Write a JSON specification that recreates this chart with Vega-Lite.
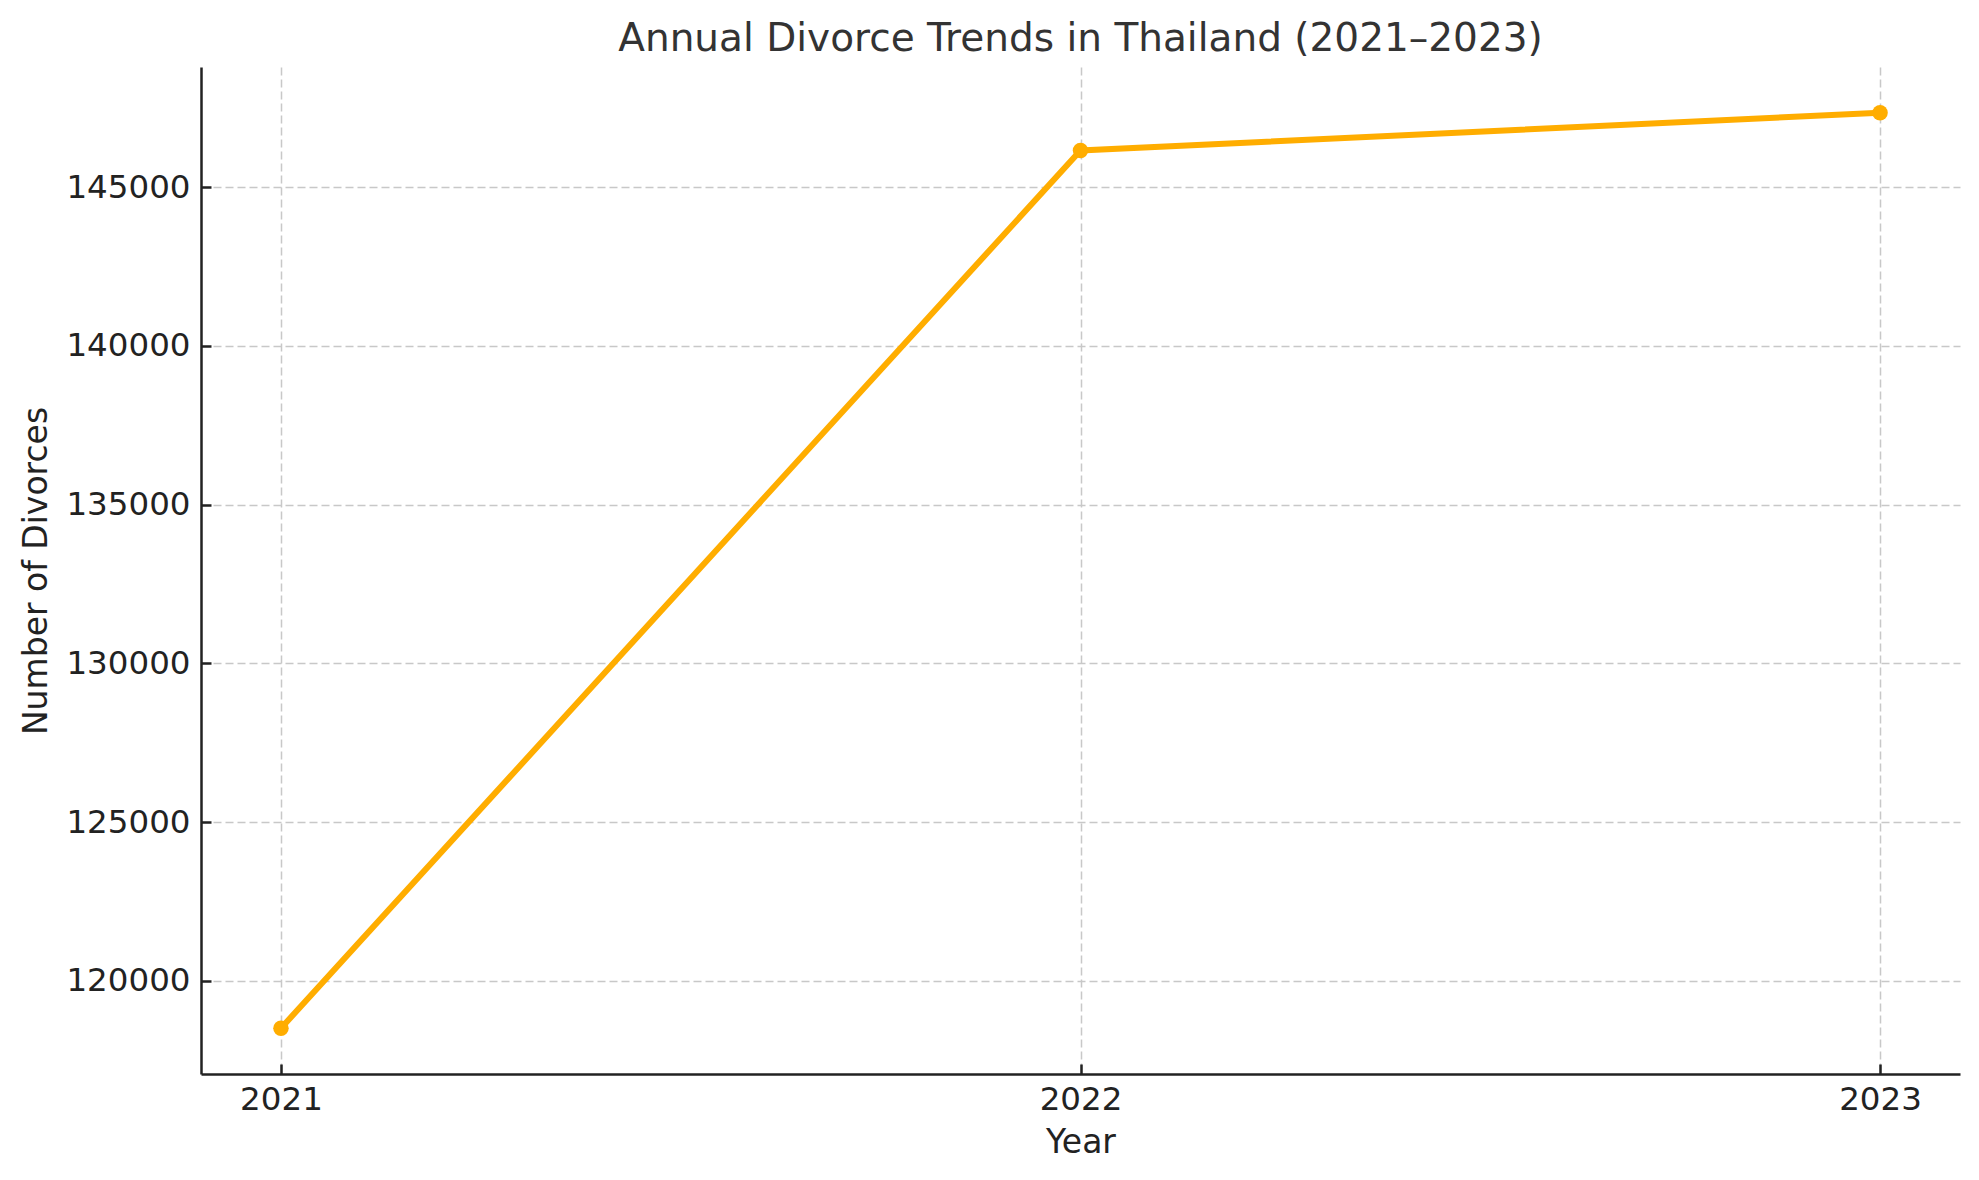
{
  "$schema": "https://vega.github.io/schema/vega-lite/v6.json",
  "width": 1759,
  "height": 1007,
  "autosize": {"type": "none"},
  "padding": {"left": 201, "top": 67, "right": 19, "bottom": 106},
  "background": "white",
  "title": {
    "text": "Annual Divorce Trends in Thailand (2021–2023)",
    "fontSize": 39,
    "font": "DejaVu Sans",
    "fontWeight": "normal",
    "color": "#333333",
    "anchor": "middle",
    "frame": "group",
    "baseline": "alphabetic",
    "offset": 17,
    "dy": 40
  },
  "data": {
    "values": [
      {"Year": 2021, "Divorces": 118511},
      {"Year": 2022, "Divorces": 146155},
      {"Year": 2023, "Divorces": 147343}
    ]
  },
  "config": {
    "view": {"stroke": null},
    "axis": {
      "domainColor": "#222222",
      "domainWidth": 2.5,
      "tickColor": "#222222",
      "tickWidth": 2.5,
      "tickSize": -10,
      "gridColor": "#c8c8c8",
      "gridWidth": 1.5,
      "gridDash": [8, 4],
      "labelFont": "DejaVu Sans",
      "labelFontSize": 32.5,
      "labelColor": "#222222",
      "titleFont": "DejaVu Sans",
      "titleFontSize": 33,
      "titleFontWeight": "normal",
      "titleColor": "#222222"
    }
  },
  "encoding": {
    "x": {
      "field": "Year",
      "type": "quantitative",
      "scale": {"domain": [2020.9, 2023.1], "nice": false, "zero": false},
      "axis": {
        "values": [2021, 2022, 2023],
        "format": "d",
        "title": "Year",
        "grid": true,
        "labelPadding": 19,
        "titleBaseline": "alphabetic",
        "titleY": 78,
        "titleX": 879.5,
        "titleAlign": "center"
      }
    },
    "y": {
      "field": "Divorces",
      "type": "quantitative",
      "scale": {"domain": [117069, 148785], "nice": false, "zero": false},
      "axis": {
        "values": [120000, 125000, 130000, 135000, 140000, 145000],
        "format": "d",
        "title": "Number of Divorces",
        "grid": true,
        "labelPadding": 21,
        "titleBaseline": "alphabetic",
        "titleAngle": -90,
        "titleAlign": "center",
        "titleX": -155,
        "titleY": 503.5
      }
    }
  },
  "layer": [
    {"mark": {"type": "line", "color": "#FFAD00", "strokeWidth": 6}},
    {"mark": {"type": "point", "filled": true, "size": 240, "color": "#FFAD00", "opacity": 1}}
  ]
}
